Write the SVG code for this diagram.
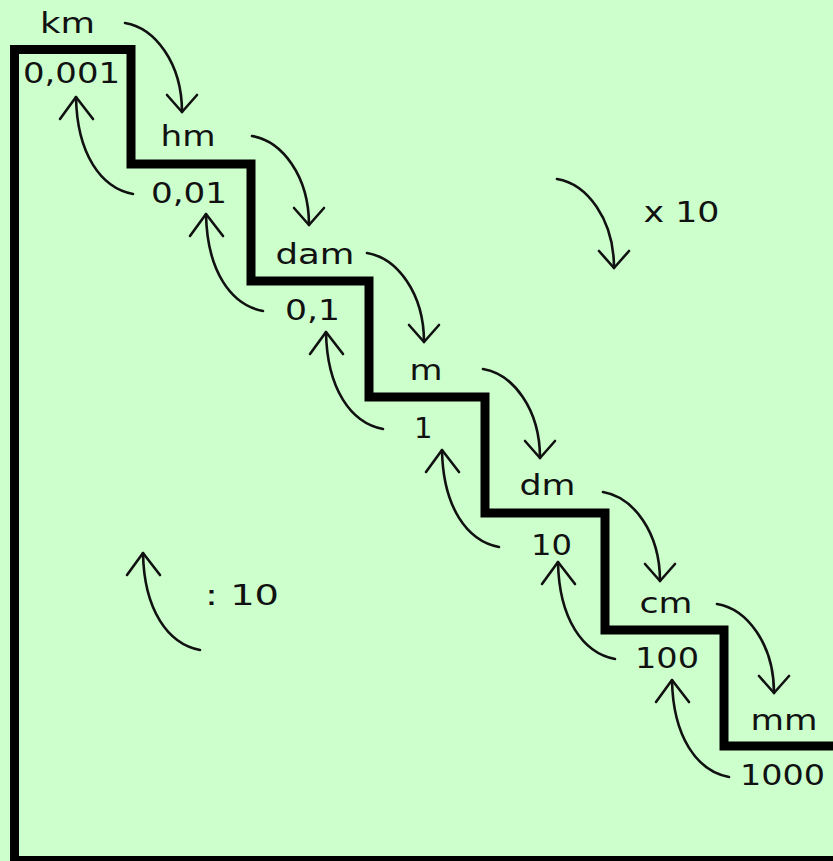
<svg xmlns="http://www.w3.org/2000/svg" xmlns:xlink="http://www.w3.org/1999/xlink" width="833" height="861" viewBox="0 0 833 861">
<style>
.t{font-family:"DejaVu Sans","Verdana",sans-serif;font-size:29px;fill:#111}
.c{fill:none;stroke:#111;stroke-width:2.6;stroke-linecap:round;stroke-linejoin:round}
.stair{fill:none;stroke:#000;stroke-width:9;stroke-linejoin:miter;stroke-linecap:butt}
</style>
<defs>
<g id="down">
<path class="c" d="M0,0 C30,5 57,40 57,89"/>
<path class="c" d="M42,72 L57,89 L72,72"/>
</g>
<g id="up">
<path class="c" d="M0,0 C-32,-6 -56,-40 -57,-97"/>
<path class="c" d="M-73,-75 L-57,-97 L-40,-75"/>
</g>
</defs>
<rect x="0" y="0" width="833" height="861" fill="#ccffcc"/>
<g id="staircase">
<path class="stair" d="M14.5,861 V49.5 H131 V164 H251 V281 H369 V397 H485 V513 H605 V630 H724 V746 H833"/>
<rect x="10" y="856" width="823" height="5" fill="#000"/>
</g>
<g id="connectors">
<use xlink:href="#down" x="125" y="23"/>
<use xlink:href="#down" x="252" y="136"/>
<use xlink:href="#down" x="367" y="253"/>
<use xlink:href="#down" x="483" y="369"/>
<use xlink:href="#down" x="603" y="492"/>
<use xlink:href="#down" x="717" y="604"/>
<use xlink:href="#down" x="557" y="179"/>
<use xlink:href="#up" x="133" y="194"/>
<use xlink:href="#up" x="263" y="311"/>
<use xlink:href="#up" x="383" y="429"/>
<use xlink:href="#up" x="499" y="547"/>
<use xlink:href="#up" x="615" y="659"/>
<use xlink:href="#up" x="729" y="777"/>
<use xlink:href="#up" x="200" y="650"/>
</g>
<g id="km"><text class="t" x="40" y="33" textLength="55" lengthAdjust="spacingAndGlyphs">km</text></g>
<g id="v0001"><text class="t" x="23" y="83" textLength="97" lengthAdjust="spacingAndGlyphs">0,001</text></g>
<g id="hm"><text class="t" x="160.5" y="146" textLength="55" lengthAdjust="spacingAndGlyphs">hm</text></g>
<g id="v001"><text class="t" x="151" y="203" textLength="76" lengthAdjust="spacingAndGlyphs">0,01</text></g>
<g id="dam"><text class="t" x="275.5" y="264" textLength="79" lengthAdjust="spacingAndGlyphs">dam</text></g>
<g id="v01"><text class="t" x="285" y="320" textLength="55" lengthAdjust="spacingAndGlyphs">0,1</text></g>
<g id="m"><text class="t" x="409.5" y="380" textLength="33" lengthAdjust="spacingAndGlyphs">m</text></g>
<g id="v1"><text class="t" x="414" y="438">1</text></g>
<g id="dm"><text class="t" x="519.5" y="495" textLength="56" lengthAdjust="spacingAndGlyphs">dm</text></g>
<g id="v10"><text class="t" x="531" y="555" textLength="41" lengthAdjust="spacingAndGlyphs">10</text></g>
<g id="cm"><text class="t" x="639.5" y="613" textLength="53" lengthAdjust="spacingAndGlyphs">cm</text></g>
<g id="v100"><text class="t" x="635" y="668" textLength="64" lengthAdjust="spacingAndGlyphs">100</text></g>
<g id="mm"><text class="t" x="750.5" y="730" textLength="67" lengthAdjust="spacingAndGlyphs">mm</text></g>
<g id="v1000"><text class="t" x="740" y="785" textLength="85" lengthAdjust="spacingAndGlyphs">1000</text></g>
<g id="times10"><text class="t" x="643.5" y="222" textLength="76" lengthAdjust="spacingAndGlyphs">x 10</text></g>
<g id="div10"><text class="t" x="205" y="605" textLength="74" lengthAdjust="spacingAndGlyphs">: 10</text></g>
</svg>
